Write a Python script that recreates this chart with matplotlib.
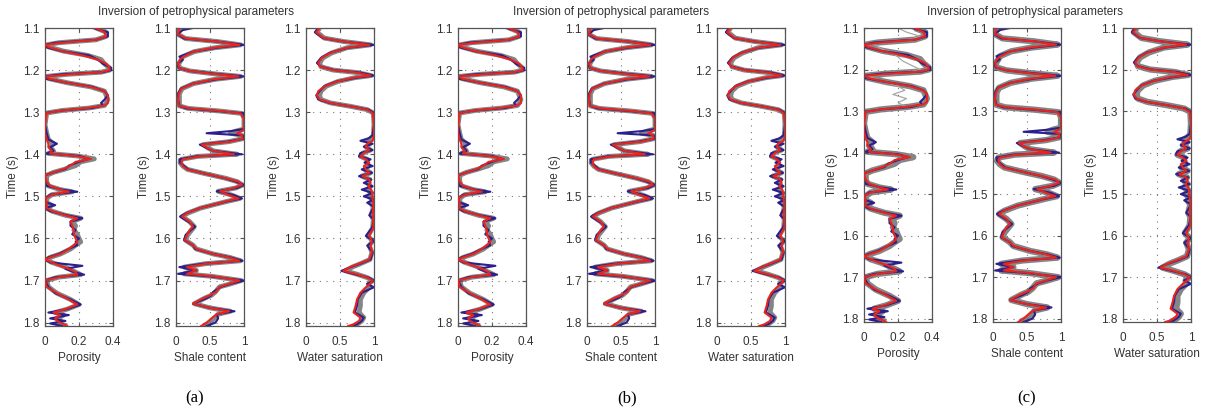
import matplotlib.pyplot as plt

plt.rcParams['font.family'] = ['Liberation Sans', 'DejaVu Sans']

# ---- data ----
# porosity
t_phi = [1.100, 1.110, 1.120, 1.128, 1.135, 1.140, 1.145, 1.155, 1.165, 1.175,
         1.185, 1.195, 1.200, 1.205, 1.210, 1.215, 1.220, 1.230, 1.240, 1.250,
         1.260, 1.270, 1.278, 1.284, 1.290, 1.296, 1.302, 1.330, 1.350, 1.365,
         1.375, 1.383, 1.392, 1.398, 1.404, 1.411, 1.418, 1.427, 1.435, 1.443,
         1.450, 1.465, 1.475, 1.484, 1.489, 1.496, 1.505, 1.515, 1.521, 1.528,
         1.535, 1.545, 1.552, 1.560, 1.570, 1.580, 1.590, 1.600, 1.608, 1.616,
         1.625, 1.637, 1.645, 1.650, 1.657, 1.665, 1.672, 1.680, 1.686, 1.692,
         1.700, 1.715, 1.730, 1.745, 1.757, 1.768, 1.776, 1.782, 1.790, 1.796,
         1.802, 1.808]
phi_true = [0.30, 0.35, 0.36, 0.30, 0.10, 0.00, 0.02, 0.10, 0.22, 0.31,
            0.36, 0.38, 0.38, 0.33, 0.15, 0.01, 0.02, 0.13, 0.27, 0.35,
            0.37, 0.37, 0.37, 0.35, 0.25, 0.10, 0.01, 0.00, 0.00, 0.01,
            0.02, 0.02, 0.04, 0.03, 0.18, 0.27, 0.18, 0.15, 0.11, 0.05,
            0.00, 0.01, 0.03, 0.09, 0.14, 0.04, 0.00, 0.01, 0.01, 0.01,
            0.04, 0.12, 0.19, 0.15, 0.16, 0.17, 0.17, 0.18, 0.19, 0.17,
            0.14, 0.09, 0.03, 0.00, 0.04, 0.09, 0.14, 0.18, 0.19, 0.08,
            0.00, 0.01, 0.07, 0.14, 0.19, 0.12, 0.05, 0.09, 0.06, 0.07,
            0.10, 0.13]
phi_inv = [0.28, 0.37, 0.37, 0.30, 0.06, 0.00, 0.00, 0.10, 0.26, 0.31,
           0.34, 0.39, 0.39, 0.34, 0.10, 0.00, 0.00, 0.13, 0.28, 0.35,
           0.37, 0.35, 0.33, 0.34, 0.28, 0.10, 0.00, 0.00, 0.01, 0.02,
           0.07, 0.03, 0.05, 0.01, 0.20, 0.26, 0.20, 0.14, 0.12, 0.05,
           0.00, 0.00, 0.01, 0.10, 0.19, 0.03, 0.00, 0.01, 0.06, 0.00,
           0.03, 0.13, 0.22, 0.15, 0.15, 0.18, 0.16, 0.20, 0.18, 0.19,
           0.14, 0.08, 0.02, 0.00, 0.03, 0.22, 0.12, 0.17, 0.23, 0.06,
           0.00, 0.02, 0.06, 0.15, 0.21, 0.13, 0.02, 0.14, 0.03, 0.12,
           0.03, 0.10]
phi_real = [0.30, 0.36, 0.36, 0.30, 0.08, 0.01, 0.02, 0.11, 0.25, 0.33,
            0.35, 0.38, 0.38, 0.33, 0.13, 0.01, 0.02, 0.13, 0.27, 0.35,
            0.36, 0.37, 0.36, 0.35, 0.26, 0.10, 0.01, 0.00, 0.01, 0.02,
            0.05, 0.03, 0.05, 0.02, 0.19, 0.29, 0.21, 0.18, 0.12, 0.05,
            0.01, 0.01, 0.02, 0.09, 0.16, 0.04, 0.01, 0.01, 0.04, 0.01,
            0.04, 0.12, 0.21, 0.16, 0.18, 0.17, 0.19, 0.20, 0.21, 0.18,
            0.15, 0.09, 0.03, 0.01, 0.04, 0.10, 0.14, 0.18, 0.21, 0.08,
            0.01, 0.02, 0.07, 0.15, 0.20, 0.13, 0.06, 0.11, 0.07, 0.09,
            0.08, 0.13]
# stray porosity realisation visible in panel (c)
t_phi_c_stray = [1.100, 1.110, 1.120, 1.130, 1.138, 1.150, 1.160, 1.170, 1.180, 1.190,
                 1.200, 1.208, 1.216, 1.230, 1.240, 1.250, 1.260, 1.270, 1.280, 1.290, 1.300]
phi_c_stray = [0.20, 0.25, 0.33, 0.25, 0.05, 0.10, 0.17, 0.20, 0.23, 0.28,
               0.33, 0.25, 0.02, 0.12, 0.20, 0.24, 0.17, 0.25, 0.20, 0.25, 0.02]

# shale content
t_vsh = [1.100, 1.105, 1.115, 1.125, 1.132, 1.140, 1.147, 1.156, 1.168, 1.175,
         1.185, 1.195, 1.202, 1.209, 1.215, 1.222, 1.232, 1.244, 1.256, 1.270,
         1.285, 1.291, 1.297, 1.303, 1.315, 1.340, 1.345, 1.350, 1.355, 1.363,
         1.370, 1.377, 1.385, 1.392, 1.400, 1.405, 1.412, 1.420, 1.428, 1.436,
         1.445, 1.457, 1.465, 1.473, 1.480, 1.488, 1.497, 1.505, 1.512, 1.520,
         1.528, 1.540, 1.548, 1.560, 1.572, 1.580, 1.592, 1.604, 1.616, 1.625,
         1.637, 1.645, 1.653, 1.660, 1.668, 1.676, 1.684, 1.690, 1.700, 1.708,
         1.715, 1.727, 1.735, 1.742, 1.755, 1.765, 1.773, 1.780, 1.790, 1.800,
         1.808]
vsh_true = [0.05, 0.04, 0.03, 0.15, 0.60, 0.93, 0.55, 0.26, 0.11, 0.06,
            0.03, 0.05, 0.20, 0.55, 0.92, 0.55, 0.26, 0.08, 0.04, 0.03,
            0.04, 0.20, 0.65, 0.95, 1.00, 1.00, 0.97, 0.90, 0.97, 0.98,
            0.80, 0.38, 0.46, 0.55, 0.85, 0.35, 0.10, 0.08, 0.10, 0.16,
            0.40, 0.73, 0.92, 0.97, 0.85, 0.65, 0.78, 0.92, 0.73, 0.55,
            0.35, 0.16, 0.09, 0.20, 0.25, 0.20, 0.16, 0.13, 0.25, 0.30,
            0.55, 0.78, 0.93, 0.45, 0.16, 0.30, 0.16, 0.55, 0.93, 0.78,
            0.64, 0.59, 0.50, 0.40, 0.25, 0.50, 0.78, 0.60, 0.52, 0.45,
            0.37]
vsh_inv = [0.25, 0.10, 0.02, 0.12, 0.60, 1.00, 0.60, 0.26, 0.05, 0.10,
           0.02, 0.04, 0.20, 0.60, 1.00, 0.60, 0.25, 0.07, 0.03, 0.03,
           0.05, 0.15, 0.60, 1.00, 1.00, 1.00, 0.80, 0.45, 0.98, 1.00,
           0.75, 0.35, 0.45, 0.55, 0.97, 0.30, 0.05, 0.06, 0.12, 0.18,
           0.40, 0.72, 0.88, 1.00, 0.90, 0.60, 0.85, 0.97, 0.75, 0.55,
           0.35, 0.15, 0.06, 0.18, 0.28, 0.22, 0.14, 0.12, 0.25, 0.28,
           0.55, 0.80, 0.98, 0.40, 0.05, 0.30, 0.03, 0.50, 1.00, 0.80,
           0.66, 0.55, 0.52, 0.45, 0.25, 0.50, 0.86, 0.60, 0.62, 0.58,
           0.45]
vsh_real = [0.10, 0.05, 0.03, 0.14, 0.60, 0.95, 0.57, 0.27, 0.10, 0.08,
            0.04, 0.05, 0.20, 0.57, 0.95, 0.57, 0.26, 0.09, 0.05, 0.05,
            0.05, 0.18, 0.63, 0.97, 1.00, 1.00, 0.88, 0.80, 0.97, 0.98,
            0.78, 0.40, 0.47, 0.55, 0.90, 0.32, 0.08, 0.06, 0.10, 0.17,
            0.40, 0.73, 0.90, 0.98, 0.88, 0.62, 0.82, 0.94, 0.75, 0.55,
            0.36, 0.17, 0.09, 0.20, 0.27, 0.23, 0.17, 0.14, 0.25, 0.30,
            0.55, 0.79, 0.95, 0.43, 0.12, 0.30, 0.12, 0.53, 0.96, 0.80,
            0.64, 0.58, 0.52, 0.42, 0.27, 0.50, 0.80, 0.62, 0.56, 0.50,
            0.40]

# water saturation
t_sw = [1.100, 1.110, 1.124, 1.132, 1.140, 1.147, 1.159, 1.171, 1.183, 1.192,
        1.200, 1.206, 1.213, 1.218, 1.227, 1.238, 1.250, 1.260, 1.270, 1.278,
        1.286, 1.294, 1.302, 1.330, 1.355, 1.362, 1.368, 1.375, 1.382, 1.390,
        1.397, 1.405, 1.412, 1.420, 1.428, 1.436, 1.444, 1.452, 1.460, 1.468,
        1.476, 1.484, 1.492, 1.500, 1.508, 1.515, 1.525, 1.545, 1.555, 1.575,
        1.594, 1.606, 1.617, 1.633, 1.650, 1.660, 1.668, 1.677, 1.685, 1.693,
        1.700, 1.708, 1.716, 1.729, 1.745, 1.760, 1.776, 1.788, 1.796, 1.804,
        1.808]
sw_true = [0.20, 0.15, 0.26, 0.55, 0.93, 0.60, 0.36, 0.23, 0.18, 0.21,
           0.40, 0.75, 0.95, 0.70, 0.46, 0.28, 0.18, 0.16, 0.20, 0.36,
           0.65, 0.90, 0.98, 1.00, 1.00, 0.99, 0.98, 0.90, 0.88, 0.93,
           0.85, 0.80, 0.88, 0.93, 0.85, 0.88, 0.93, 0.83, 0.93, 0.95,
           0.92, 0.96, 0.97, 0.98, 0.98, 0.99, 0.99, 0.98, 0.99, 0.99,
           0.93, 0.97, 0.95, 0.97, 0.93, 0.78, 0.65, 0.55, 0.75, 0.90,
           0.98, 0.94, 0.88, 0.80, 0.75, 0.73, 0.70, 0.80, 0.78, 0.70,
           0.62]
sw_inv = [0.18, 0.13, 0.25, 0.55, 1.00, 0.62, 0.35, 0.22, 0.16, 0.22,
          0.42, 0.80, 1.00, 0.75, 0.45, 0.27, 0.20, 0.15, 0.18, 0.35,
          0.65, 0.92, 1.00, 1.00, 0.98, 0.92, 0.80, 0.98, 0.85, 0.98,
          0.80, 0.78, 0.95, 0.86, 0.98, 0.82, 0.97, 0.78, 0.96, 0.85,
          0.98, 0.82, 0.98, 0.85, 1.00, 0.90, 1.00, 0.93, 1.00, 0.97,
          0.88, 1.00, 0.90, 0.98, 0.95, 0.80, 0.66, 0.52, 0.72, 0.92,
          1.00, 0.90, 1.00, 0.82, 0.76, 0.75, 0.72, 0.85, 0.82, 0.75,
          0.68]
sw_real = [0.20, 0.16, 0.27, 0.55, 0.95, 0.60, 0.38, 0.25, 0.20, 0.22,
           0.40, 0.76, 0.96, 0.72, 0.47, 0.30, 0.22, 0.20, 0.22, 0.36,
           0.65, 0.90, 0.99, 1.00, 0.99, 0.96, 0.90, 0.94, 0.88, 0.95,
           0.84, 0.80, 0.90, 0.90, 0.92, 0.86, 0.95, 0.82, 0.94, 0.90,
           0.95, 0.90, 0.97, 0.92, 0.98, 0.95, 0.99, 0.96, 0.99, 0.98,
           0.91, 0.98, 0.93, 0.97, 0.94, 0.80, 0.68, 0.58, 0.75, 0.90,
           0.98, 0.92, 0.93, 0.85, 0.80, 0.80, 0.78, 0.85, 0.82, 0.75,
           0.70]

time_ticks = [1.1, 1.2, 1.3, 1.4, 1.5, 1.6, 1.7, 1.8]
panel_letters = ['(a)', '(b)', '(c)']
title = 'Inversion of petrophysical parameters'

props = [
    (t_phi, phi_true, phi_inv, phi_real, 0.4, [0, 0.2, 0.4], ['0', '0.2', '0.4'], 'Porosity'),
    (t_vsh, vsh_true, vsh_inv, vsh_real, 1.0, [0, 0.5, 1], ['0', '0.5', '1'], 'Shale content'),
    (t_sw, sw_true, sw_inv, sw_real, 1.0, [0, 0.5, 1], ['0', '0.5', '1'], 'Water saturation'),
]

# layout in pixels (figure 1208 x 418)
W, H = 1208, 418
group_left = [[45, 176, 306], [458, 587, 717], [864, 993, 1123]]
group_bottom = [326, 326, 322]
group_title_x = [196, 611, 1025]
group_letter_x = [195, 627, 1027]
gray_width = [3.5, 3.5, 4.5]

TXT = '#333333'
fig = plt.figure(figsize=(W / 100, H / 100), dpi=100)

for g in range(3):
    top, bot = 28, group_bottom[g]
    for p, (t, y_true, y_inv, y_real, xmax, xt, xtl, xlab) in enumerate(props):
        x0 = group_left[g][p]
        ax = fig.add_axes([x0 / W, 1 - bot / H, 68 / W, (bot - top) / H])
        ax.plot(y_real, t, color='#858585', lw=gray_width[g], solid_capstyle='butt', zorder=1)
        if g == 2 and p == 0:
            ax.plot(phi_c_stray, t_phi_c_stray, color='#a8a8a8', lw=0.9, zorder=1.5)
        ax.plot(y_inv, t, color='#2a1f8c', lw=1.5, zorder=2)
        ax.plot(y_true, t, color='#e8241e', lw=1.5, zorder=3)
        ax.set_xlim(0, xmax)
        ax.set_ylim(1.808, 1.1)
        ax.set_xticks(xt)
        ax.set_xticklabels(xtl)
        ax.set_yticks(time_ticks)
        ax.set_yticklabels([f'{v:.1f}' for v in time_ticks])
        ax.grid(True, linestyle=(0, (1, 5)), color='#777777', lw=0.8)
        ax.tick_params(direction='in', top=True, right=True, length=3, width=0.8,
                       labelsize=8.5, labelcolor=TXT, color='#555555', pad=4)
        ax.tick_params(axis='x', pad=7)
        for s in ax.spines.values():
            s.set_color('#555555')
            s.set_linewidth(0.9)
        ax.set_xlabel(xlab, fontsize=8.5, color=TXT, labelpad=3)
        ax.set_ylabel('Time (s)', fontsize=8.5, color=TXT, labelpad=3)
    fig.text(group_title_x[g] / W, 1 - 12 / H, title, ha='center', va='center',
             fontsize=8.5, color=TXT)
    fig.text(group_letter_x[g] / W, 1 - 398 / H, panel_letters[g], ha='center', va='center',
             fontsize=12, family='Liberation Serif', color='black')

fig.savefig('out.png', dpi=100)
